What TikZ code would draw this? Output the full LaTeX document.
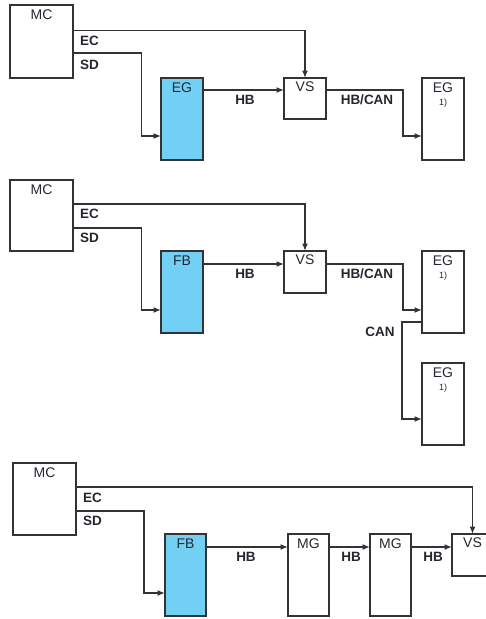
\documentclass[tikz,border=0pt]{standalone}
\usepackage{fontspec}
\setmainfont{Liberation Sans}
\usetikzlibrary{arrows.meta}
\definecolor{ln}{HTML}{333333}
\definecolor{tx}{HTML}{262630}
\definecolor{fb}{HTML}{72D0F5}
\begin{document}
\begin{tikzpicture}[x=1pt,y=-1pt,
  blk/.style={draw=ln,line width=1.7pt,anchor=north west,inner sep=0pt,outer sep=0pt},
  blue/.style={blk,fill=fb},
  ttl/.style={anchor=north,inner sep=0pt,font=\fontsize{14}{14}\selectfont,text=tx},
  lab/.style={inner sep=0pt,font=\fontsize{13.5}{14}\selectfont\bfseries,text=tx},
  foot/.style={anchor=north,inner sep=0pt,font=\fontsize{9}{9}\selectfont,text=tx},
  con/.style={draw=ln,line width=1.4pt},
  arr/.style={con,-{Latex[length=7.5pt,width=6pt]}}]
\useasboundingbox (0,0) rectangle (486,619);
\clip (0,0) rectangle (486,619);
% ---------- diagram 1 ----------
\node[blk,minimum width=63pt,minimum height=73pt] (mc1) at (10,5) {};
\node[ttl] (mc1t) at ([yshift=-5pt]mc1.north) {MC};
\node[blue,minimum width=42pt,minimum height=82pt] (eg1) at (161,78) {};
\node[ttl] (eg1t) at ([yshift=-5pt]eg1.north) {EG};
\node[blk,minimum width=42pt,minimum height=41pt] (vs1) at (284,78) {};
\node[ttl] (vs1t) at ([yshift=-4pt]vs1.north) {VS};
\node[blk,minimum width=42pt,minimum height=82pt] (egr1) at (422,78) {};
\node[ttl] (egr1t) at ([yshift=-5pt]egr1.north) {EG};
\node[foot] (egr1f) at ([yshift=-21pt]egr1.north) {1)};
\coordinate (ec1) at (73,30.5);
\coordinate (sd1) at (73,53);
\draw[arr] (ec1) -| (vs1.north);
\draw[arr] (sd1) -- (141.5,53) |- (eg1.west |- 0,136);
\draw[arr] (eg1.east |- 0,90) -- (vs1.west |- 0,90);
\draw[arr] (vs1.east |- 0,90) -- (403,90) |- (egr1.west |- 0,136);
\node[lab,anchor=west] (ec1l) at (80,41) {EC};
\node[lab,anchor=west] (sd1l) at (80,65) {SD};
\node[lab] (hb1l) at (245,100) {HB};
\node[lab] (hc1l) at (367,100) {HB/CAN};
% ---------- diagram 2 ----------
\node[blk,minimum width=63pt,minimum height=71pt] (mc2) at (10,180) {};
\node[ttl] (mc2t) at ([yshift=-5pt]mc2.north) {MC};
\node[blue,minimum width=42pt,minimum height=82pt] (fb2) at (161,251) {};
\node[ttl] (fb2t) at ([yshift=-5pt]fb2.north) {FB};
\node[blk,minimum width=42pt,minimum height=42pt] (vs2) at (284,251) {};
\node[ttl] (vs2t) at ([yshift=-4pt]vs2.north) {VS};
\node[blk,minimum width=42pt,minimum height=82pt] (egr2) at (422,251) {};
\node[ttl] (egr2t) at ([yshift=-5pt]egr2.north) {EG};
\node[foot] (egr2f) at ([yshift=-21pt]egr2.north) {1)};
\node[blk,minimum width=42pt,minimum height=82pt] (egr3) at (422,363) {};
\node[ttl] (egr3t) at ([yshift=-5pt]egr3.north) {EG};
\node[foot] (egr3f) at ([yshift=-21pt]egr3.north) {1)};
\coordinate (ec2) at (73,204);
\coordinate (sd2) at (73,228);
\draw[arr] (ec2) -| (vs2.north);
\draw[arr] (sd2) -- (141.5,228) |- (fb2.west |- 0,310);
\draw[arr] (fb2.east |- 0,264) -- (vs2.west |- 0,264);
\draw[arr] (vs2.east |- 0,264) -- (403,264) |- (egr2.west |- 0,310);
\draw[arr] (egr2.west |- 0,322) -- (402,322) |- (egr3.west |- 0,419);
\node[lab,anchor=west] (ec2l) at (80,214) {EC};
\node[lab,anchor=west] (sd2l) at (80,238) {SD};
\node[lab] (hb2l) at (245,274) {HB};
\node[lab] (hc2l) at (367,274) {HB/CAN};
\node[lab] (can2l) at (380,332) {CAN};
% ---------- diagram 3 ----------
\node[blk,minimum width=63pt,minimum height=72pt] (mc3) at (13,463) {};
\node[ttl] (mc3t) at ([yshift=-5pt]mc3.north) {MC};
\node[blue,minimum width=41pt,minimum height=82pt] (fb3) at (165,534) {};
\node[ttl] (fb3t) at ([yshift=-5pt]fb3.north) {FB};
\node[blk,minimum width=41pt,minimum height=82pt] (mg1) at (288,534) {};
\node[ttl] (mg1t) at ([yshift=-5pt]mg1.north) {MG};
\node[blk,minimum width=41pt,minimum height=82pt] (mg2) at (370,534) {};
\node[ttl] (mg2t) at ([yshift=-5pt]mg2.north) {MG};
\node[blk,minimum width=41pt,minimum height=42pt] (vs3) at (452,534) {};
\node[ttl] (vs3t) at ([yshift=-4pt]vs3.north) {VS};
\coordinate (ec3) at (76,487);
\coordinate (sd3) at (76,511);
\draw[arr] (ec3) -| (vs3.north);
\draw[arr] (sd3) -- (144,511) |- (fb3.west |- 0,593);
\draw[arr] (fb3.east |- 0,547) -- (mg1.west |- 0,547);
\draw[arr] (mg1.east |- 0,547) -- (mg2.west |- 0,547);
\draw[arr] (mg2.east |- 0,547) -- (vs3.west |- 0,547);
\node[lab,anchor=west] (ec3l) at (83,498) {EC};
\node[lab,anchor=west] (sd3l) at (83,521) {SD};
\node[lab] (hb3a) at (246,557) {HB};
\node[lab] (hb3b) at (351,557) {HB};
\node[lab] (hb3c) at (433,557) {HB};
\end{tikzpicture}
\end{document}
